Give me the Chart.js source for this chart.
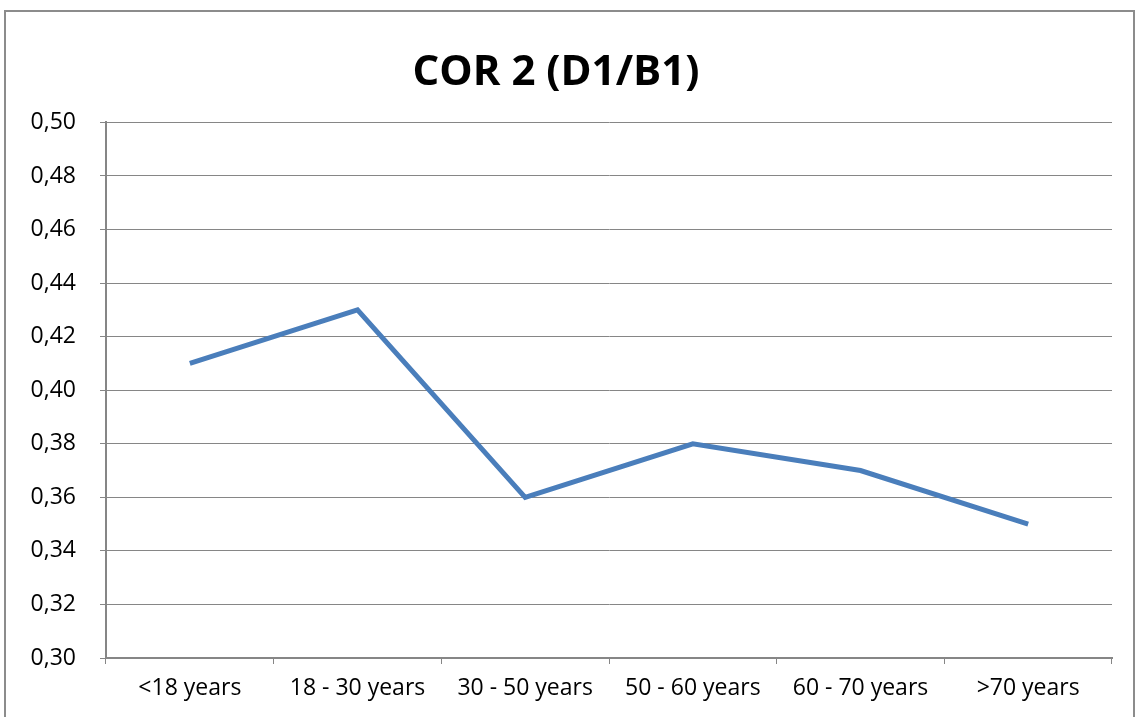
<!DOCTYPE html>
<html>
<head>
    <meta charset="utf-8" />
    <title>COR 2 (D1/B1)</title>
    <script src="https://cdn.jsdelivr.net/npm/chart.js"></script>
    <style>
        html, body { margin: 0; padding: 0; background: #fff; }
        #wrap { position: relative; width: 1140px; height: 717px; }
        #frame {
            position: absolute; left: 4px; top: 10px; width: 1131px; height: 720px;
            border: 2px solid #8c8c8c; box-sizing: border-box; pointer-events: none;
        }
        canvas { position: absolute; left: 0; top: 0; }
    </style>
</head>
<body>
    <div id="wrap">
        <canvas id="chart" width="1140" height="717"></canvas>
        <div id="frame"></div>
    </div>

    <script>
        var categories = ['<18 years', '18 - 30 years', '30 - 50 years', '50 - 60 years', '60 - 70 years', '>70 years'];
        var values = [0.41, 0.43, 0.36, 0.38, 0.37, 0.35];
        var yMin = 0.30, yMax = 0.50, yStep = 0.02;

        var gridColor = '#868686';
        var font = "'Open Sans', 'Noto Sans', sans-serif";

        var ctx = document.getElementById('chart').getContext('2d');
        new Chart(ctx, {
            type: 'line',
            data: {
                labels: categories,
                datasets: [{
                    data: values,
                    borderColor: '#4a7ebb',
                    borderWidth: 5,
                    pointRadius: 0,
                    tension: 0,
                    fill: false
                }]
            },
            options: {
                responsive: false,
                animation: false,
                layout: { padding: { left: 0, right: 28, top: 0, bottom: 0 } },
                plugins: {
                    legend: { display: false },
                    tooltip: { enabled: false },
                    title: {
                        display: true,
                        text: 'COR 2 (D1/B1)',
                        color: '#000',
                        font: { family: font, size: 42, weight: 'bold' },
                        padding: { top: 48, bottom: 24 }
                    }
                },
                scales: {
                    x: {
                        offset: true,
                        grid: {
                            offset: true,
                            drawOnChartArea: false,
                            color: gridColor,
                            tickLength: 6,
                            tickColor: gridColor
                        },
                        border: { color: gridColor, width: 2 },
                        ticks: {
                            color: '#000',
                            font: { family: font, size: 23 },
                            padding: 11,
                            maxRotation: 0,
                            autoSkip: false
                        },
                        afterFit: function (scale) { scale.height = 59; }
                    },
                    y: {
                        min: yMin,
                        max: yMax,
                        grid: {
                            color: gridColor,
                            lineWidth: 1,
                            tickLength: 6,
                            tickColor: gridColor
                        },
                        border: { color: gridColor, width: 2 },
                        ticks: {
                            stepSize: yStep,
                            color: '#000',
                            font: { family: font, size: 23 },
                            padding: 24,
                            callback: function (v) { return v.toFixed(2).replace('.', ','); }
                        },
                        afterFit: function (scale) { scale.width = 106; }
                    }
                }
            }
        });
    </script>
</body>
</html>
